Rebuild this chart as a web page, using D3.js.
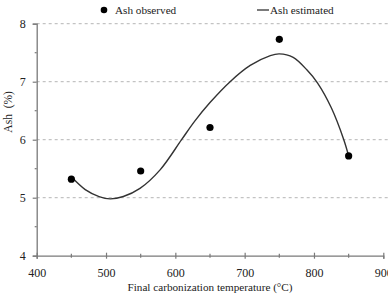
<!DOCTYPE html>
<html>
<head>
<meta charset="utf-8">
<script src="https://cdn.jsdelivr.net/npm/d3@7"></script>
<style>
  body { margin: 0; background: #fff; }
  svg { display: block; font-family: 'Liberation Serif', 'Times New Roman', serif; }
</style>
</head>
<body>
<div id="chart"></div>
<script>
// observed ash content
const tempObserved = [450, 550, 650, 750, 850];
const ashObserved = [5.32, 5.46, 6.21, 7.73, 5.72];

// estimated curve
const tempEstimated = [450, 470, 490, 506, 525, 549, 578, 609, 628, 650, 679, 708, 737, 750, 770, 790, 805, 825, 843, 850];
const ashEstimated = [5.36, 5.14, 5.02, 4.98, 5.02, 5.16, 5.48, 6.0, 6.32, 6.64, 7.0, 7.28, 7.45, 7.48, 7.42, 7.2, 6.98, 6.55, 6.0, 5.72];

const xTicks = [400, 500, 600, 700, 800, 900];
const xMinorTicks = [450, 550, 650, 750, 850];
const yTicks = [4, 5, 6, 7, 8];
const yMinorTicks = [4.5, 5.5, 6.5, 7.5];

const width = 388, height = 296;
const margin = { top: 23.7, right: 4.7, bottom: 40.3, left: 36.7 };
const innerWidth = width - margin.left - margin.right;
const innerHeight = height - margin.top - margin.bottom;
const axisColor = '#7a7a7a';
const font = "'Liberation Serif', 'Times New Roman', serif";

const svg = d3.select('#chart').append('svg').attr('width', width).attr('height', height);
const g = svg.append('g').attr('transform', `translate(${margin.left},${margin.top})`);

const x = d3.scaleLinear().domain([400, 900]).range([0, innerWidth]);
const y = d3.scaleLinear().domain([4, 8]).range([innerHeight, 0]);

// dashed grid
g.append('g').selectAll('line').data(yTicks.filter(d => d > 4)).enter().append('line')
  .attr('x1', 0).attr('x2', width - margin.left).attr('y1', d => y(d)).attr('y2', d => y(d))
  .attr('stroke', '#b5b5b5').attr('stroke-width', 1).attr('stroke-dasharray', '3,3');

// x axis
const xAxis = g.append('g').attr('transform', `translate(0,${innerHeight})`)
  .call(d3.axisBottom(x).tickValues(xTicks).tickSize(3).tickPadding(10).tickFormat(d3.format('d')));
xAxis.selectAll('.tick line').attr('y1', -3);
xAxis.append('g').selectAll('line').data(xMinorTicks).enter().append('line')
  .attr('x1', d => x(d)).attr('x2', d => x(d)).attr('y1', -2).attr('y2', 2);

// y axis
const yAxis = g.append('g')
  .call(d3.axisLeft(y).tickValues(yTicks).tickSize(4).tickPadding(7).tickFormat(d3.format('d')));
yAxis.append('g').selectAll('line').data(yMinorTicks).enter().append('line')
  .attr('x1', -2).attr('x2', 0).attr('y1', d => y(d)).attr('y2', d => y(d));

g.selectAll('.domain').attr('stroke', axisColor).attr('stroke-width', 1.3);
xAxis.selectAll('line').attr('stroke', axisColor).attr('stroke-width', 1.2);
yAxis.selectAll('line').attr('stroke', axisColor).attr('stroke-width', 1.2);
g.selectAll('.tick text').attr('font-family', font).attr('font-size', 12).attr('fill', '#222');

// estimated curve
const line = d3.line().x(d => x(d[0])).y(d => y(d[1])).curve(d3.curveCatmullRom.alpha(0.5));
g.append('path').datum(tempEstimated.map((t, i) => [t, ashEstimated[i]]))
  .attr('d', line).attr('fill', 'none').attr('stroke', '#333').attr('stroke-width', 1.4);

// observed points
g.selectAll('.dot').data(tempObserved.map((t, i) => [t, ashObserved[i]])).enter().append('circle')
  .attr('class', 'dot').attr('cx', d => x(d[0])).attr('cy', d => y(d[1])).attr('r', 3.6).attr('fill', '#000');

// axis titles
svg.append('text').attr('x', margin.left + x(650)).attr('y', 291)
  .attr('text-anchor', 'middle').attr('font-size', 11.2).attr('fill', '#222')
  .text('Final carbonization temperature (°C)');
svg.append('text').attr('transform', `translate(12,${margin.top + y(6.48)}) rotate(-90)`)
  .attr('text-anchor', 'middle').attr('font-size', 11.5).attr('fill', '#222')
  .attr('xml:space', 'preserve').style('white-space', 'pre')
  .text('Ash  (%)');

// legend
const legend = svg.append('g');
legend.append('circle').attr('cx', 104).attr('cy', 10).attr('r', 3.3).attr('fill', '#000');
legend.append('text').attr('x', 115).attr('y', 14).attr('font-size', 11.2).attr('fill', '#222').text('Ash observed');
legend.append('line').attr('x1', 257).attr('x2', 269).attr('y1', 10).attr('y2', 10).attr('stroke', '#333').attr('stroke-width', 1.3);
legend.append('text').attr('x', 270).attr('y', 14).attr('font-size', 11.2).attr('fill', '#222').text('Ash estimated');
</script>
</body>
</html>
